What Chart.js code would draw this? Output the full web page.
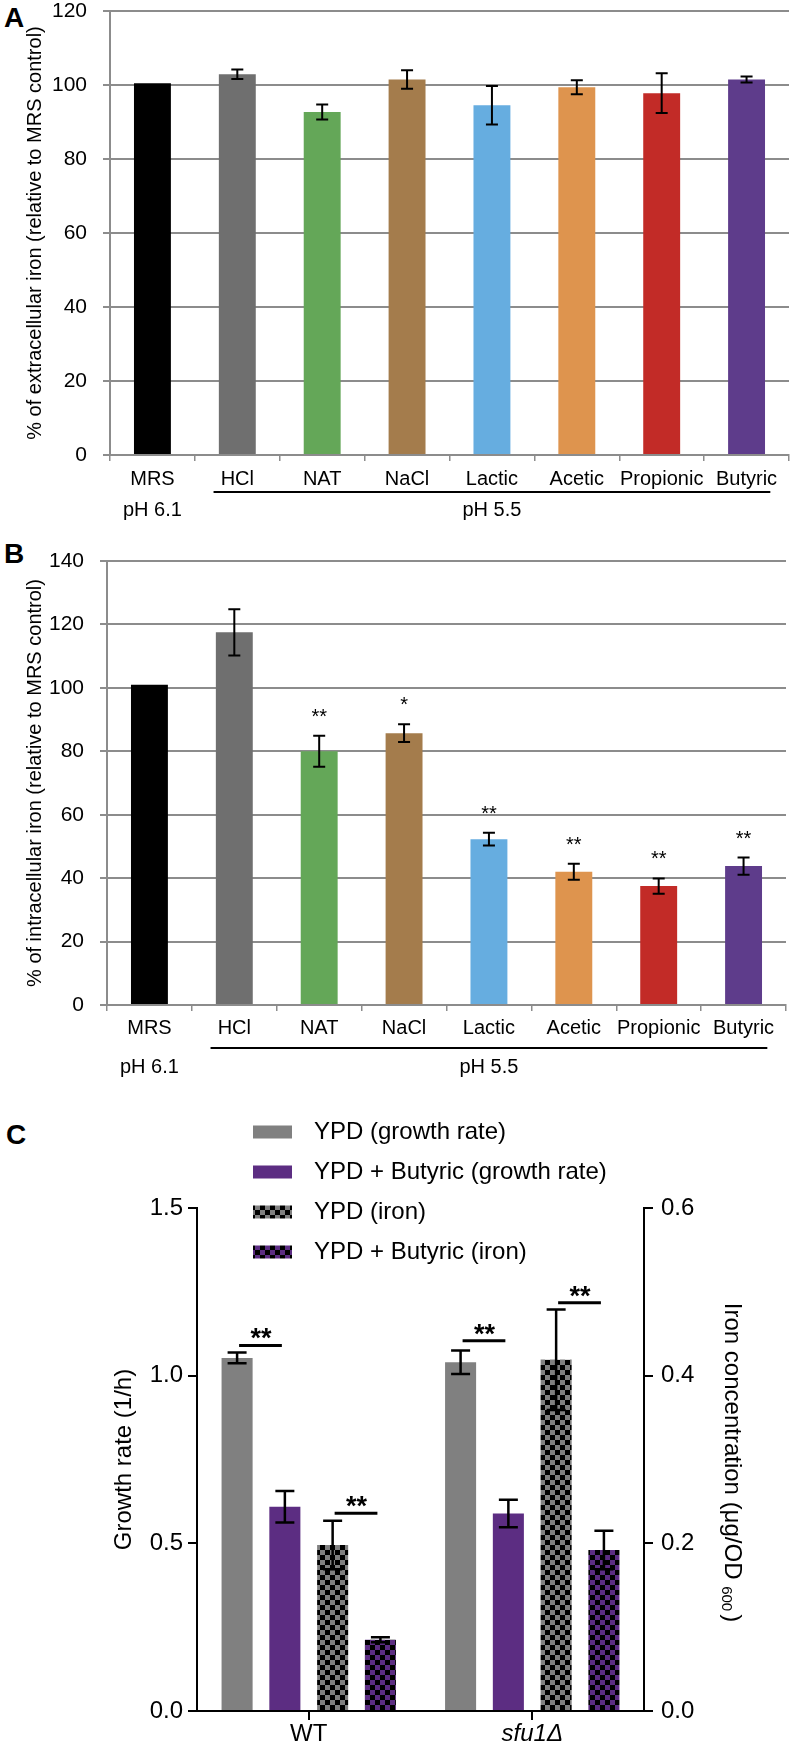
<!DOCTYPE html>
<html>
<head>
<meta charset="utf-8">
<style>
  body { margin: 0; background: #fff; width: 793px; height: 1746px; position: relative; overflow: hidden; }
  canvas { position: absolute; left: 0; }
  .tag { position: absolute; font: bold 28px 'Liberation Sans', Arial, sans-serif; line-height: 28px; }
</style>
</head>
<body>
<script src="https://cdn.jsdelivr.net/npm/chart.js@4/dist/chart.umd.min.js"></script>
<div class="tag" style="left:4px;top:4px">A</div>
<div class="tag" style="left:4px;top:540px">B</div>
<div class="tag" style="left:6px;top:1121px">C</div>
<canvas id="chartA" width="793" height="560" style="top:-20px"></canvas>
<canvas id="chartB" width="793" height="560" style="top:530px"></canvas>
<canvas id="chartC" width="793" height="626" style="top:1120px"></canvas>
<script>
const FONT = "'Liberation Sans', Arial, sans-serif";
const GRID = '#8c8c8c';

// panels A and B
const treatments = ['MRS', 'HCl', 'NAT', 'NaCl', 'Lactic', 'Acetic', 'Propionic', 'Butyric'];
const barColors = ['#000000', '#6f6f6f', '#64a758', '#a47c4c', '#66ade0', '#de944e', '#c22b27', '#5e3c8b'];
const extracellular = [100.5, 102.9, 92.7, 101.5, 94.5, 99.4, 97.8, 101.5];
const extracellularErr = [0, 1.3, 2.0, 2.5, 5.2, 1.9, 5.4, 0.8];
const intracellular = [101, 117.5, 80, 85.7, 52.3, 42, 37.5, 43.8];
const intracellularErr = [0, 7.3, 4.9, 2.8, 2.0, 2.5, 2.4, 2.7];
const intracellularSig = ['', '', '**', '*', '**', '**', '**', '**'];

// panel C
const strains = ['WT', 'sfu1Δ'];
const growthYPD = [1.053, 1.04];
const growthYPDErr = [0.016, 0.035];
const growthBut = [0.609, 0.589];
const growthButErr = [0.047, 0.041];
const ironYPD = [0.198, 0.419];
const ironYPDErr = [0.029, 0.06];
const ironBut = [0.085, 0.192];
const ironButErr = [0.003, 0.023];
// significance bars: strain, from bar, to bar, height on the given axis
const sigC = [
  {strain: 0, from: 0, to: 1, y: 1.09, axis: 'y'},
  {strain: 0, from: 2, to: 3, y: 0.236, axis: 'y2'},
  {strain: 1, from: 0, to: 1, y: 1.104, axis: 'y'},
  {strain: 1, from: 2, to: 3, y: 0.487, axis: 'y2'}
];

const errorBars = {
  id: 'errorBars',
  afterDatasetsDraw(chart, args, opts) {
    const ctx = chart.ctx;
    ctx.save();
    ctx.strokeStyle = '#000';
    ctx.lineWidth = opts.width;
    chart.data.datasets.forEach((ds, i) => {
      if (!ds.err) return;
      const meta = chart.getDatasetMeta(i);
      const scale = chart.scales[meta.yAxisID];
      meta.data.forEach((bar, j) => {
        const e = ds.err[j];
        if (e) {
          const top = scale.getPixelForValue(ds.data[j] + e);
          const bot = scale.getPixelForValue(ds.data[j] - e);
          ctx.beginPath();
          ctx.moveTo(bar.x, top); ctx.lineTo(bar.x, bot);
          ctx.moveTo(bar.x - opts.cap, top); ctx.lineTo(bar.x + opts.cap, top);
          ctx.moveTo(bar.x - opts.cap, bot); ctx.lineTo(bar.x + opts.cap, bot);
          ctx.stroke();
        }
        if (ds.sig && ds.sig[j]) {
          const top = scale.getPixelForValue(ds.data[j] + e);
          ctx.fillStyle = '#000';
          ctx.font = '20px ' + FONT;
          ctx.textAlign = 'center';
          ctx.textBaseline = 'alphabetic';
          ctx.fillText(ds.sig[j], bar.x, top - 13);
        }
      });
    });
    ctx.restore();
  }
};

const phLabels = {
  id: 'phLabels',
  afterDraw(chart, args, opts) {
    const {ctx, chartArea} = chart;
    const x = chart.scales.x;
    const cw = x.getPixelForValue(1) - x.getPixelForValue(0);
    const x0 = x.getPixelForValue(1) - 0.28 * cw;
    const x1 = x.getPixelForValue(7) + 0.28 * cw;
    ctx.save();
    ctx.strokeStyle = '#000';
    ctx.lineWidth = 2;
    ctx.beginPath();
    ctx.moveTo(x0, chartArea.bottom + opts.line);
    ctx.lineTo(x1, chartArea.bottom + opts.line);
    ctx.stroke();
    ctx.fillStyle = '#000';
    ctx.font = '20px ' + FONT;
    ctx.textAlign = 'center';
    ctx.textBaseline = 'middle';
    ctx.fillText('pH 6.1', x.getPixelForValue(0), chartArea.bottom + opts.text);
    ctx.fillText('pH 5.5', (x0 + x1) / 2, chartArea.bottom + opts.text);
    ctx.restore();
  }
};

function panelConfig(values, errs, sig, max, title, axisWidth, rightPad, ph) {
  return {
    type: 'bar',
    data: {
      labels: treatments,
      datasets: [{ data: values, err: errs, sig: sig, backgroundColor: barColors,
                   barPercentage: 0.435, categoryPercentage: 1 }]
    },
    options: {
      responsive: false,
      animation: false,
      layout: { padding: { top: 31, right: rightPad, left: 0, bottom: 0 } },
      plugins: {
        legend: { display: false },
        tooltip: { enabled: false },
        errorBars: { width: 2, cap: 6 },
        phLabels: ph
      },
      scales: {
        x: {
          grid: { drawOnChartArea: false, tickLength: 6, color: GRID, lineWidth: 1.5, offset: true },
          border: { color: GRID, width: 2 },
          ticks: { color: '#000', font: { family: FONT, size: 20 }, padding: ph.pad, maxRotation: 0, autoSkip: false },
          afterFit: s => { s.height = 85; }
        },
        y: {
          min: 0, max: max,
          ticks: { stepSize: 20, color: '#000', font: { family: FONT, size: 21 }, padding: 16 },
          grid: { color: GRID, lineWidth: 2, tickLength: 7 },
          border: { color: GRID, width: 2 },
          title: { display: true, text: title, color: '#000',
                   font: { family: FONT, size: 20, lineHeight: 1.2 }, padding: { top: 23, bottom: 0 } },
          afterFit: s => { s.width = axisWidth; }
        }
      }
    },
    plugins: [errorBars, phLabels]
  };
}

new Chart('chartA', panelConfig(extracellular, extracellularErr, null, 120,
  '% of extracellular iron (relative to MRS control)', 110, 4, { line: 37, text: 55, pad: 6 }));
new Chart('chartB', panelConfig(intracellular, intracellularErr, intracellularSig, 140,
  '% of intracellular iron (relative to MRS control)', 107, 7, { line: 43, text: 62, pad: 5 }));

function checker(color) {
  const c = document.createElement('canvas');
  c.width = c.height = 10;
  const g = c.getContext('2d');
  g.fillStyle = '#000';
  g.fillRect(0, 0, 10, 10);
  g.fillStyle = color;
  g.fillRect(0, 0, 5, 5);
  g.fillRect(5, 5, 5, 5);
  return g.createPattern(c, 'repeat');
}

const panelCExtras = {
  id: 'panelCExtras',
  afterDatasetsDraw(chart) {
    const ctx = chart.ctx;
    ctx.save();
    ctx.strokeStyle = '#000';
    ctx.fillStyle = '#000';
    ctx.lineWidth = 3;
    ctx.font = 'bold 27px ' + FONT;
    ctx.textAlign = 'center';
    ctx.textBaseline = 'alphabetic';
    sigC.forEach(s => {
      const a = chart.getDatasetMeta(s.from).data[s.strain];
      const b = chart.getDatasetMeta(s.to).data[s.strain];
      const y = chart.scales[s.axis].getPixelForValue(s.y);
      ctx.beginPath();
      ctx.moveTo(a.x + 2, y);
      ctx.lineTo(b.x - 3, y);
      ctx.stroke();
      ctx.fillText('**', (a.x + b.x) / 2, y + 2);
    });
    ctx.restore();
  },
  afterDraw(chart) {
    const ctx = chart.ctx;
    ctx.save();
    ctx.font = '24px ' + FONT;
    ctx.textBaseline = 'middle';
    ctx.textAlign = 'left';
    chart.data.datasets.forEach((ds, i) => {
      const cy = 12 + 40 * i;
      ctx.fillStyle = ds.backgroundColor;
      ctx.fillRect(253, cy - 6.5, 39, 13);
      ctx.fillStyle = '#000';
      ctx.fillText(ds.label, 314, cy);
    });
    // right axis title, with subscript
    ctx.translate(732, (chart.chartArea.top + chart.chartArea.bottom) / 2 + 3);
    ctx.rotate(Math.PI / 2);
    const main = 'Iron concentration (μg/OD ';
    ctx.font = '24px ' + FONT;
    const w1 = ctx.measureText(main).width;
    const w3 = ctx.measureText(')').width + 3;
    ctx.font = '15px ' + FONT;
    const w2 = ctx.measureText('600').width;
    let x = -(w1 + w2 + w3) / 2;
    ctx.font = '24px ' + FONT;
    ctx.fillText(main, x, 0);
    x += w1;
    ctx.font = '15px ' + FONT;
    ctx.fillText('600', x, 6);
    x += w2 + 3;
    ctx.font = '24px ' + FONT;
    ctx.fillText(')', x, 0);
    ctx.restore();
  }
};

const axisC = {
  grid: { drawOnChartArea: false, tickLength: 9, color: '#000', lineWidth: 2 },
  border: { color: '#000', width: 2 }
};

new Chart('chartC', {
  type: 'bar',
  data: {
    labels: strains,
    datasets: [
      { label: 'YPD (growth rate)', data: growthYPD, err: growthYPDErr, backgroundColor: '#808080', yAxisID: 'y' },
      { label: 'YPD + Butyric (growth rate)', data: growthBut, err: growthButErr, backgroundColor: '#5c2d82', yAxisID: 'y' },
      { label: 'YPD (iron)', data: ironYPD, err: ironYPDErr, backgroundColor: checker('#808080'), yAxisID: 'y2' },
      { label: 'YPD + Butyric (iron)', data: ironBut, err: ironButErr, backgroundColor: checker('#5c2d82'), yAxisID: 'y2' }
    ]
  },
  options: {
    responsive: false,
    animation: false,
    datasets: { bar: { barPercentage: 0.65, categoryPercentage: 0.855 } },
    layout: { padding: { top: 88, left: 0, right: 0, bottom: 0 } },
    plugins: {
      legend: { display: false },
      tooltip: { enabled: false },
      errorBars: { width: 2.5, cap: 9.5 }
    },
    scales: {
      x: {
        ...axisC,
        grid: { ...axisC.grid, offset: false },
        ticks: { color: '#000', padding: 0,
                 font: c => ({ family: FONT, size: 24, style: c.index === 1 ? 'italic' : 'normal' }) },
        afterFit: s => { s.height = 35; }
      },
      y: {
        ...axisC,
        position: 'left', min: 0, max: 1.5,
        ticks: { stepSize: 0.5, color: '#000', padding: 5, font: { family: FONT, size: 24 },
                 callback: v => v.toFixed(1) },
        title: { display: true, text: 'Growth rate (1/h)', color: '#000',
                 font: { family: FONT, size: 24, lineHeight: 1.2 }, padding: { top: 110, bottom: 0 } },
        afterFit: s => { s.width = 197; }
      },
      y2: {
        ...axisC,
        position: 'right', min: 0, max: 0.6,
        ticks: { stepSize: 0.2, color: '#000', padding: 8, font: { family: FONT, size: 24 },
                 callback: v => v.toFixed(1) },
        afterFit: s => { s.width = 149; }
      }
    }
  },
  plugins: [errorBars, panelCExtras]
});
</script>
</body>
</html>
